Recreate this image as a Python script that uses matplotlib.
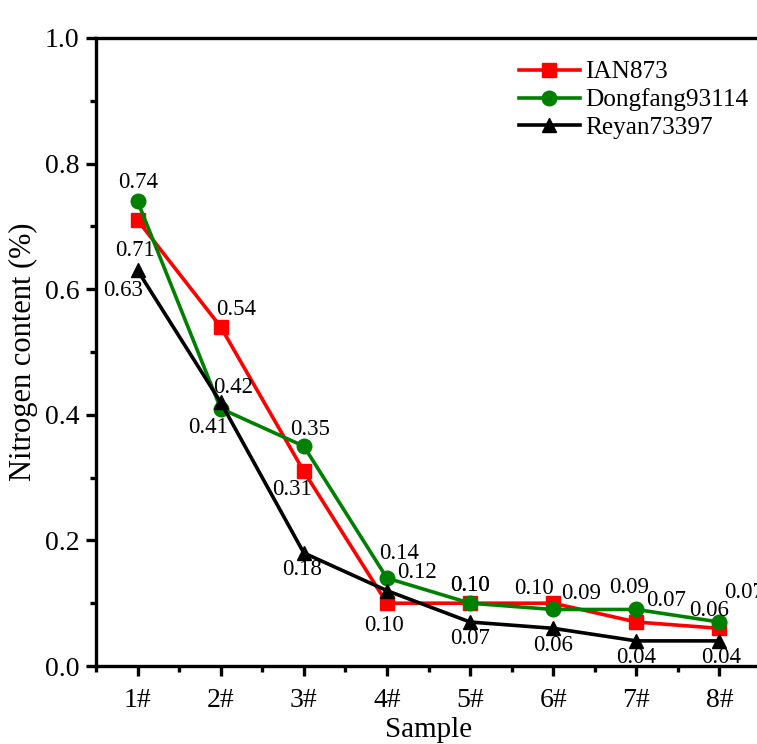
import numpy as np
import matplotlib
matplotlib.use("Agg")
import matplotlib.pyplot as plt
from matplotlib.ticker import MultipleLocator

plt.rcParams['font.family'] = ['Liberation Serif', 'DejaVu Serif']

samples = ["1#", "2#", "3#", "4#", "5#", "6#", "7#", "8#"]
ian873 = [0.71, 0.54, 0.31, 0.10, 0.10, 0.10, 0.07, 0.06]
dongfang = [0.74, 0.41, 0.35, 0.14, 0.10, 0.09, 0.09, 0.07]
reyan = [0.63, 0.42, 0.18, 0.12, 0.07, 0.06, 0.04, 0.04]

# label offsets in pixels (dx, dy) for each point's value label
off_ian = [(-3, -30), (15, 17), (-12, -18), (-3, -22), (0, 18), (-19, 15), (30, 22), (-10, 18)]
off_dong = [(1, 19), (-13, -19), (6, 17), (12, 25), (0, 18), (28, 16), (-7, 22), (25, 30)]
off_rey = [(-14, -20), (12, 15), (-2, -17), (30, 18), (0, -16), (0, -17), (0, -17), (2, -17)]

fig = plt.figure(figsize=(7.57, 7.44), dpi=100)
ax = fig.add_axes([96/757, 78/744, 665/757, 628/744])

x = np.arange(1, len(samples) + 1)
series = [
    ("IAN873", ian873, "red", "s", off_ian),
    ("Dongfang93114", dongfang, "green", "o", off_dong),
    ("Reyan73397", reyan, "black", "^", off_rey),
]
for name, vals, col, mk, offs in series:
    ax.plot(x, vals, color=col, marker=mk, lw=2.6, ms=10.5, label=name)
for name, vals, col, mk, offs in series:
    for xi, v, (dx, dy) in zip(x, vals, offs):
        ax.annotate(f"{v:.2f}", (xi, v), xytext=(dx, dy), textcoords="offset pixels",
                    ha="center", va="center", fontsize=16.5)

ax.set_xlim(0.5, 8.5)
ax.set_ylim(0, 1.0)
ax.set_xticks(x)
ax.set_xticklabels(samples)
ax.xaxis.set_minor_locator(MultipleLocator(0.5))
ax.yaxis.set_major_locator(MultipleLocator(0.2))
ax.yaxis.set_minor_locator(MultipleLocator(0.1))
ax.yaxis.set_major_formatter(matplotlib.ticker.FormatStrFormatter("%.1f"))
ax.tick_params(which="major", direction="out", length=7, width=2.4, labelsize=20, pad=5)
ax.tick_params(axis="x", which="major", pad=9)
ax.tick_params(which="minor", direction="out", length=4, width=2.4)
for s in ax.spines.values():
    s.set_linewidth(2.4)

ax.set_xlabel("Sample", fontsize=21, labelpad=3)
ax.set_ylabel("Nitrogen content (%)", fontsize=22, labelpad=5)

ax.legend(loc="upper left", bbox_to_anchor=(0.602, 1.0), frameon=False, fontsize=18.2,
          handlelength=2.4, handletextpad=0.2, labelspacing=0.2)

fig.savefig("out.png", dpi=100)
